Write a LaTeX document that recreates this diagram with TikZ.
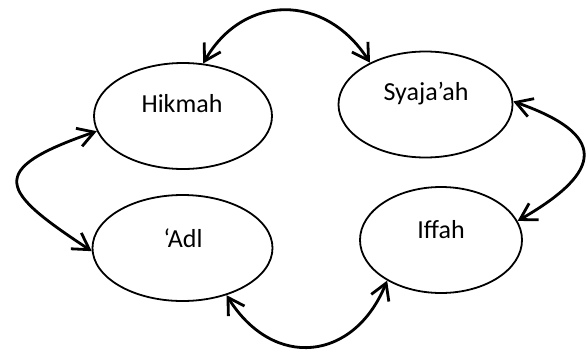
\documentclass[tikz,border=0pt]{standalone}
\usepackage{fontspec}
\setmainfont{Carlito}
\usetikzlibrary{arrows.meta,shapes.geometric}
\begin{document}
\begin{tikzpicture}[x=0.5pt,y=-0.5pt,
  virtue/.style={shape=ellipse,draw,line width=0.9pt,inner sep=0pt},
  word/.style={anchor=base,font=\fontsize{13}{15}\selectfont},
  link/.style={{Straight Barb[length=8pt,width=9.5pt]}-{Straight Barb[length=8pt,width=9.5pt]},line width=1.4pt}]
\useasboundingbox (0,0) rectangle (588,354);

\node(hikmah) at (183,116)[virtue,minimum width=89pt,minimum height=53pt]   {};
\node(syajaah) at (425.5,104.5)[virtue,minimum width=87pt,minimum height=53pt] {};
\node(adl) at (182.5,248)[virtue,minimum width=90pt,minimum height=53pt]   {};
\node(iffah) at (441,240)[virtue,minimum width=81pt,minimum height=53pt]   {};

\node(hikmahtxt) at (182,112)[word]   {Hikmah};
\node(syajaahtxt) at (426,100)[word]  {Syaja’ah};
\node(adltxt) at (183,247)[word]      {‘Adl};
\node(iffahtxt) at (441,238)[word]    {Iffah};

\draw [link] (hikmah.69)  .. controls +(40,-70) and +(-45,-70) .. (syajaah.143);
\draw [link] (hikmah.190) .. controls +(-113,39) and +(-91,-60) .. (adl.182);
\draw [link] (syajaah.2)  .. controls +(94,33) and +(87,-50)    .. (iffah.14);
\draw [link] (adl.313)    .. controls +(47,75) and +(-33,81)    .. (iffah.217);

\end{tikzpicture}
\end{document}
